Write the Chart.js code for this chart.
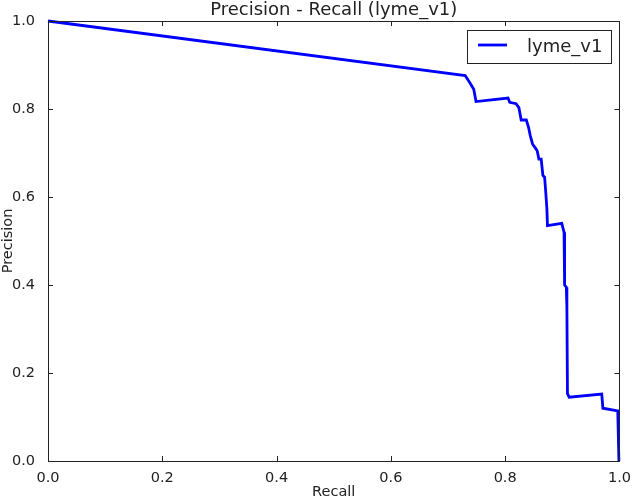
<!DOCTYPE html>
<html>
<head>
<meta charset="utf-8">
<script src="https://cdn.jsdelivr.net/npm/chart.js@4"></script>
<style>
  html, body { margin: 0; padding: 0; background: #fff; }
  #wrap { width: 632px; height: 499px; }
</style>
</head>
<body>
<div id="wrap"><canvas id="prChart" width="632" height="499"></canvas></div>
<script>
// values
const seriesName = 'lyme_v1';
const recall = [0, 0.730, 0.739, 0.745, 0.749, 0.805, 0.808, 0.819, 0.824, 0.828, 0.837,
  0.841, 0.844, 0.848, 0.853, 0.856, 0.859, 0.863, 0.866, 0.869, 0.871, 0.873, 0.874,
  0.899, 0.903, 0.904, 0.907, 0.908, 0.909, 0.912, 0.969, 0.971, 0.997, 0.999];
const precision = [1.0, 0.876, 0.858, 0.845, 0.817, 0.825, 0.815, 0.812, 0.803, 0.775, 0.775,
  0.758, 0.739, 0.720, 0.711, 0.705, 0.686, 0.686, 0.649, 0.645, 0.611, 0.573, 0.535,
  0.540, 0.520, 0.400, 0.395, 0.350, 0.153, 0.145, 0.152, 0.120, 0.114, 0.0];
const xTicks = [0, 0.2, 0.4, 0.6, 0.8, 1.0];
const yTicks = [0, 0.2, 0.4, 0.6, 0.8, 1.0];

const FONT = 'DejaVu Sans';
const INK = '#222';

// frame, inward ticks, title and legend box like matplotlib classic
const mplLook = {
  id: 'mplLook',
  afterDraw(chart) {
    const ctx = chart.ctx;
    const a = chart.chartArea;
    const xs = chart.scales.x, ys = chart.scales.y;
    ctx.save();
    ctx.strokeStyle = INK;
    ctx.lineWidth = 1;
    ctx.beginPath();
    xTicks.forEach(v => {
      const px = Math.round(xs.getPixelForValue(v)) + 0.5;
      ctx.moveTo(px, a.bottom); ctx.lineTo(px, a.bottom - 5);
      ctx.moveTo(px, a.top); ctx.lineTo(px, a.top + 5);
    });
    yTicks.forEach(v => {
      const py = Math.round(ys.getPixelForValue(v)) + 0.5;
      ctx.moveTo(a.left, py); ctx.lineTo(a.left + 5, py);
      ctx.moveTo(a.right, py); ctx.lineTo(a.right - 5, py);
    });
    ctx.stroke();
    ctx.strokeRect(Math.round(a.left) + 0.5, Math.round(a.top) + 0.5,
      Math.round(a.right - a.left), Math.round(a.bottom - a.top));

    // title
    ctx.fillStyle = INK;
    ctx.font = '18px "' + FONT + '"';
    ctx.textAlign = 'center';
    ctx.textBaseline = 'alphabetic';
    ctx.fillText('Precision - Recall (' + seriesName + ')', (a.left + a.right) / 2, 15);

    // legend
    const lx = 467, ly = 30, lw = 144, lh = 33;
    ctx.fillStyle = '#fff';
    ctx.fillRect(lx, ly, lw, lh);
    ctx.strokeStyle = INK;
    ctx.strokeRect(lx + 0.5, ly + 0.5, lw, lh);
    ctx.strokeStyle = '#0000ff';
    ctx.lineWidth = 2.8;
    ctx.beginPath();
    ctx.moveTo(478, ly + 15); ctx.lineTo(507, ly + 15);
    ctx.stroke();
    ctx.fillStyle = INK;
    ctx.textAlign = 'left';
    ctx.fillText(seriesName, 527, 52);
    ctx.restore();
  }
};

new Chart(document.getElementById('prChart'), {
  type: 'line',
  data: {
    datasets: [{
      label: seriesName,
      data: recall.map((r, i) => ({ x: r, y: precision[i] })),
      borderColor: '#0000ff',
      borderWidth: 2.8,
      pointRadius: 0,
      tension: 0,
      fill: false,
      clip: 3
    }]
  },
  options: {
    responsive: false,
    animation: false,
    layout: { padding: { top: 21, right: 12, left: 0, bottom: 0 } },
    plugins: {
      legend: { display: false },
      tooltip: { enabled: false }
    },
    scales: {
      x: {
        type: 'linear',
        min: 0, max: 1,
        afterFit: s => { s.height = 38; },
        afterBuildTicks: s => { s.ticks = xTicks.map(v => ({ value: v })); },
        grid: { display: false },
        border: { display: false },
        ticks: {
          color: INK, padding: 1,
          font: { family: FONT, size: 14.5 },
          callback: v => v.toFixed(1)
        },
        title: {
          display: true, text: 'Recall', color: INK,
          font: { family: FONT, size: 14.5 },
          padding: { top: 0, bottom: -2 }
        }
      },
      y: {
        type: 'linear',
        min: 0, max: 1,
        afterFit: s => { s.width = 48; },
        afterBuildTicks: s => { s.ticks = yTicks.map(v => ({ value: v })); },
        grid: { display: false },
        border: { display: false },
        ticks: {
          color: INK, padding: 5,
          font: { family: FONT, size: 14.5 },
          callback: v => v.toFixed(1)
        },
        title: {
          display: true, text: 'Precision', color: INK,
          font: { family: FONT, size: 14.5 },
          padding: { top: 0, bottom: 0 }
        }
      }
    }
  },
  plugins: [mplLook]
});
</script>
</body>
</html>
